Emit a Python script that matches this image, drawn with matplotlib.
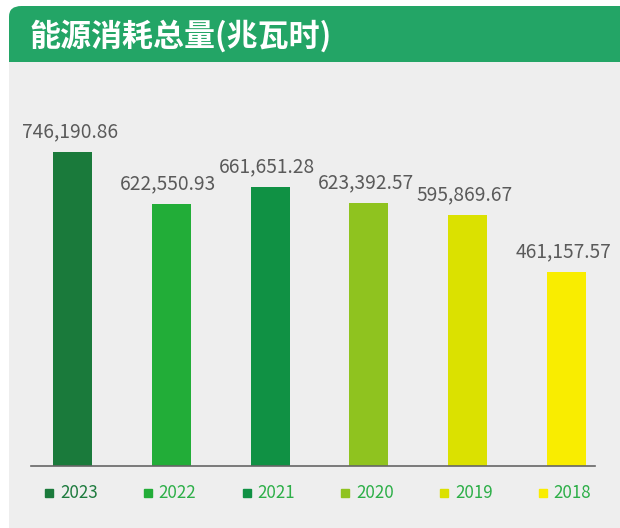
import matplotlib
matplotlib.use("Agg")
import matplotlib.pyplot as plt
from matplotlib.patches import FancyBboxPatch, Rectangle
from matplotlib.transforms import blended_transform_factory

plt.rcParams["font.family"] = ["Noto Sans CJK SC", "DejaVu Sans"]

# data
years = ["2023", "2022", "2021", "2020", "2019", "2018"]
energy_mwh = [746190.86, 622550.93, 661651.28, 623392.57, 595869.67, 461157.57]
value_labels = ["746,190.86", "622,550.93", "661,651.28", "623,392.57", "595,869.67", "461,157.57"]
bar_colors = ["#1a7a3b", "#22ad38", "#109144", "#8fc31f", "#dbe100", "#f9ed00"]
legend_text_colors = ["#1e7b3e", "#2daf48", "#2daf48", "#2daf48", "#2daf48", "#2daf48"]
title = "能源消耗总量(兆瓦时)"

W, H = 620, 528


def fx(px):
    return px / W


def fy(py):
    return 1 - py / H


def main():
    fig = plt.figure(figsize=(W / 100, H / 100), dpi=100, facecolor="white")

    # header band with rounded top corners, panel below
    header = FancyBboxPatch((fx(9), fy(90)), fx(620 - 9) + 0.05, (90 - 6) / H,
                            boxstyle="round,pad=0,rounding_size=0.02",
                            transform=fig.transFigure, facecolor="#23a566",
                            edgecolor="none", zorder=0)
    fig.add_artist(header)
    panel = Rectangle((fx(9), 0), fx(620 - 9) + 0.05, (H - 62) / H,
                      transform=fig.transFigure, facecolor="#eeeeee",
                      edgecolor="none", zorder=0.1)
    fig.add_artist(panel)

    fig.text(fx(30), fy(36), title, color="white", fontsize=22.3,
             fontweight="bold", va="center", ha="left", zorder=3)

    ax = fig.add_axes([fx(31), fy(466), fx(595 - 31), (466 - 70) / H])
    ax.set_zorder(2)
    ax.set_facecolor("none")
    x = list(range(len(years)))
    ax.bar(x, energy_mwh, width=0.395, color=bar_colors, zorder=2)
    ax.set_xlim(-0.42, 5.29)
    ax.set_ylim(0, 940000)

    for xi, v, lab in zip(x, energy_mwh, value_labels):
        ax.annotate(lab, (xi, v), xytext=(-2, 10.5), textcoords="offset points",
                    ha="center", va="baseline", fontsize=13.8, color="#5a5a5a")

    for s in ["top", "right", "left"]:
        ax.spines[s].set_visible(False)
    ax.spines["bottom"].set_color("#666666")
    ax.spines["bottom"].set_linewidth(1.2)
    ax.set_xticks([])
    ax.set_yticks([])

    # legend, one entry under each bar
    tr = blended_transform_factory(ax.transData, ax.transAxes)
    ly = -27 / 396
    for xi, yr, c, tc in zip(x, years, bar_colors, legend_text_colors):
        ax.plot([xi - 0.238], [ly], marker="s", markersize=6, color=c,
                transform=tr, clip_on=False, linestyle="none")
        ax.text(xi - 0.127, ly, yr, transform=tr, ha="left", va="center",
                fontsize=12.2, color=tc)

    fig.savefig("out.png", dpi=100, facecolor="white")


if __name__ == "__main__":
    main()
